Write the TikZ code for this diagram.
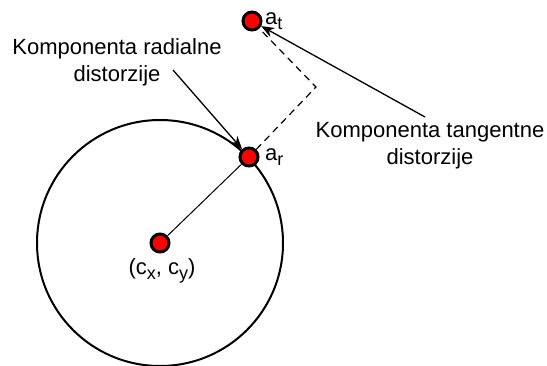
\documentclass[tikz,border=0pt]{standalone}
\usepackage{fontspec}
\setmainfont{Liberation Sans}
\usetikzlibrary{arrows.meta}
\newcommand{\mysub}[1]{\raisebox{-5pt}{\fontsize{18}{18}\selectfont #1}}
\begin{document}
\begin{tikzpicture}[x=1pt,y=-1pt,
  dot/.style={circle,draw=black,line width=3pt,fill=red,minimum size=18pt,inner sep=0pt},
  lbl/.style={font=\fontsize{22}{27}\selectfont,align=center,inner sep=0pt},
  sub/.style={font=\fontsize{22}{25}\selectfont,inner sep=0pt,anchor=base west},
  pointer/.style={line width=1.3pt,-{Stealth[length=13pt,width=10pt,inset=4pt]}}]
\useasboundingbox (0,0) rectangle (547,365);
\node[circle,draw,line width=2pt,minimum size=246pt,inner sep=0pt] (circ) at (160,243) {};
\node[dot] (c) at (160,243) {};
\node[dot] (ar) at (249,157) {};
\node[dot] (at) at (252,21) {};
\coordinate (corner) at (316,87);
\draw[line width=1pt] (c) -- (ar);
\draw[line width=1.2pt,dash pattern=on 7pt off 5pt] (ar) -- (corner) -- (at);
\node[sub] (arl) at (265,160) {a\mysub{r}};
\node[sub] (atl) at (265,24) {a\mysub{t}};
\node[lbl] (cl) at (162,271) {(c\mysub{x}, c\mysub{y})};
\node[lbl] (rad) at (117,62) {Komponenta radialne\\distorzije};
\node[lbl] (tan) at (430,146) {Komponenta tangentne\\distorzije};
\coordinate (rs) at (173,70);
\coordinate (ts) at (425,117);
\draw[pointer] (rs) -- (ar);
\draw[pointer] (ts) -- (at);
\end{tikzpicture}
\end{document}
